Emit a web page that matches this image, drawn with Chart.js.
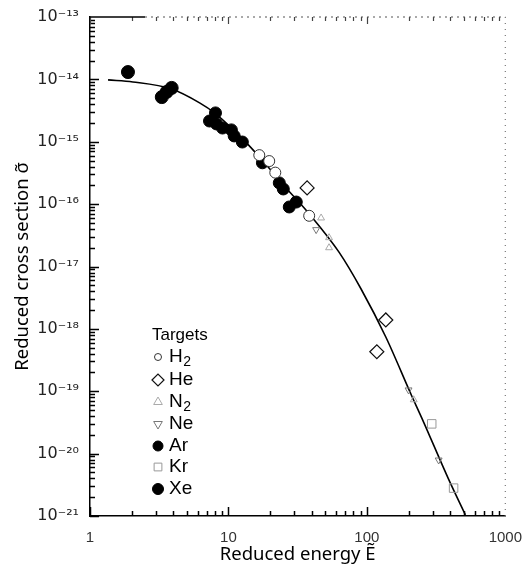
<!DOCTYPE html>
<html>
<head>
<meta charset="utf-8">
<script src="https://cdn.jsdelivr.net/npm/chart.js@4/dist/chart.umd.min.js"></script>
<style>
  html, body { margin: 0; padding: 0; background: #fff; }
  #wrap { width: 527px; height: 575px; }
</style>
</head>
<body>
<div id="wrap"><canvas id="c" width="527" height="575"></canvas></div>
<script>
// ---- data ----
const curveE     = [1.35, 2.04, 3.89, 6.19, 7.93, 13.5, 18.2, 26.1, 38.3, 62.9, 90.6, 137, 211, 249, 389, 515];
const curveSigma = [9.8e-15, 9.1e-15, 7.0e-15, 4.2e-15, 2.9e-15, 9.6e-16, 4.6e-16, 1.82e-16, 7.0e-17, 1.7e-17, 4.4e-18, 7.4e-19, 8.4e-20, 3.75e-20, 3.9e-21, 1.04e-21];

const h2E     = [16.7, 19.7, 21.8, 38.3];
const h2Sigma = [6.1e-16, 4.9e-16, 3.2e-16, 6.5e-17];

const heE     = [37.0, 137, 118];
const heSigma = [1.82e-16, 1.39e-18, 4.3e-19];

const n2E     = [46.7, 53.3, 53.3, 218];
const n2Sigma = [6.0e-17, 2.9e-17, 2.0e-17, 7.3e-20];

const neE     = [43, 200, 330];
const neSigma = [3.9e-17, 1.05e-19, 7.9e-21];

const arE     = [8.06, 7.30, 8.20, 9.06, 10.5, 11.0, 12.6, 17.6, 23.3, 24.9, 27.5, 30.9];
const arSigma = [2.9e-15, 2.15e-15, 1.93e-15, 1.66e-15, 1.55e-15, 1.24e-15, 9.9e-16, 4.6e-16, 2.19e-16, 1.75e-16, 9.0e-17, 1.08e-16];

const krE     = [294, 423];
const krSigma = [3.0e-20, 2.8e-21];

const xeE     = [1.88, 3.30, 3.58, 3.89];
const xeSigma = [1.31e-14, 5.2e-15, 6.3e-15, 7.3e-15];

const xTickValues    = [1, 10, 100, 1000];
const yTickExponents = [-13, -14, -15, -16, -17, -18, -19, -20, -21];
const legendTitle = 'Targets';

// ---- helpers ----
const SUP = {'-':'\u207B','0':'\u2070','1':'\u00B9','2':'\u00B2','3':'\u00B3','4':'\u2074','5':'\u2075','6':'\u2076','7':'\u2077','8':'\u2078','9':'\u2079'};
const sup = s => String(s).split('').map(ch => SUP[ch] || ch).join('');
const pts = (xs, ys) => xs.map((x, i) => ({x: x, y: ys[i]}));
const yTickValues = yTickExponents.map(e => Math.pow(10, e));

function drawTicks(chart) {
  const ctx = chart.ctx, xs = chart.scales.x, ys = chart.scales.y;
  const a = chart.chartArea;
  ctx.save();
  ctx.setLineDash([]);
  ctx.globalAlpha = 1;
  ctx.lineWidth = 1.5;
  ctx.strokeStyle = '#000000';
  ctx.beginPath();
  for (let d = -21; d < -13; d++) {
    for (let m = 1; m <= 9; m++) {
      const py = Math.round(ys.getPixelForValue(m * Math.pow(10, d))) + 0.5;
      const len = m === 1 ? 9 : 5;
      ctx.moveTo(a.left, py); ctx.lineTo(a.left + len, py);
    }
  }
  for (let d = 0; d < 3; d++) {
    for (let m = 1; m <= 9; m++) {
      const px = Math.round(xs.getPixelForValue(m * Math.pow(10, d))) + 0.5;
      const len = m === 1 ? 9 : 5;
      ctx.moveTo(px, a.bottom); ctx.lineTo(px, a.bottom - len);
    }
  }
  ctx.stroke();
  ctx.strokeStyle = '#444444';
  ctx.lineWidth = 1.2;
  ctx.beginPath();
  for (let d = 0; d < 3; d++) {
    for (let m = 1; m <= 9; m++) {
      const px = Math.round(xs.getPixelForValue(m * Math.pow(10, d))) + 0.5;
      const len = m === 1 ? 7 : 4;
      ctx.moveTo(px, a.top); ctx.lineTo(px, a.top + len);
    }
  }
  ctx.stroke();
  ctx.restore();
}

// inward tick marks, frame and legend
const framePlugin = {
  id: 'frame',
  afterDatasetsDraw(chart) {
    drawTicks(chart);
  },
  afterDraw(chart) {
    const ctx = chart.ctx;
    const a = chart.chartArea;
    ctx.save();
    // top border: solid then dotted
    ctx.strokeStyle = '#000';
    ctx.lineWidth = 1.4;
    ctx.beginPath(); ctx.moveTo(a.left, a.top); ctx.lineTo(a.left + 55, a.top); ctx.stroke();
    ctx.strokeStyle = '#555';
    ctx.lineWidth = 1.2;
    ctx.setLineDash([2, 4]);
    ctx.beginPath(); ctx.moveTo(a.left + 55, a.top); ctx.lineTo(a.right, a.top); ctx.stroke();
    // right border dotted
    ctx.setLineDash([1, 5]);
    ctx.strokeStyle = '#777';
    ctx.beginPath(); ctx.moveTo(a.right, a.top); ctx.lineTo(a.right, a.bottom); ctx.stroke();
    ctx.setLineDash([]);

    // legend
    const lx = a.left + 68, tx = a.left + 79;
    ctx.fillStyle = '#000';
    ctx.textBaseline = 'middle';
    ctx.textAlign = 'left';
    ctx.font = '17px "Liberation Sans", Arial, sans-serif';
    ctx.fillText(legendTitle, a.left + 62, 335);
    const rows = [357, 380, 402, 424, 446, 467, 489];
    const items = chart.data.datasets.filter(ds => ds.legendRow !== undefined);
    items.forEach(ds => {
      const y = rows[ds.legendRow];
      ctx.save();
      ctx.fillStyle = ds.backgroundColor;
      ctx.strokeStyle = ds.borderColor;
      ctx.lineWidth = ds.borderWidth;
      Chart.helpers.drawPoint(ctx, {
        pointStyle: ds.pointStyle, radius: ds.legendRadius,
        rotation: ds.rotation || 0, borderWidth: ds.borderWidth
      }, lx, y);
      ctx.restore();
      ctx.fillStyle = '#000';
      ctx.font = '19px "Liberation Sans", Arial, sans-serif';
      const m = /^([A-Za-z]+)(\d*)$/.exec(ds.label);
      ctx.fillText(m[1], tx, y);
      if (m[2]) {
        const w = ctx.measureText(m[1]).width;
        ctx.font = '14px "Liberation Sans", Arial, sans-serif';
        ctx.fillText(m[2], tx + w + 0.5, y + 5);
      }
    });
    ctx.restore();
  }
};

const FONT = '"Liberation Sans", Arial, sans-serif';

new Chart(document.getElementById('c'), {
  type: 'scatter',
  data: {
    datasets: [
      { label: 'fit', data: pts(curveE, curveSigma), showLine: true, borderColor: '#000', borderWidth: 1.6,
        pointRadius: 0, cubicInterpolationMode: 'monotone', order: 10 },
      { label: 'H2', legendRow: 0, data: pts(h2E, h2Sigma), pointStyle: 'circle', pointRadius: 5.5, legendRadius: 3.5,
        backgroundColor: '#fff', borderColor: '#333', borderWidth: 1 },
      { label: 'He', legendRow: 1, data: pts(heE, heSigma), pointStyle: 'rectRot', pointRadius: 7, legendRadius: 6,
        backgroundColor: '#fff', borderColor: '#111', borderWidth: 1.2 },
      { label: 'N2', legendRow: 2, data: pts(n2E, n2Sigma), pointStyle: 'triangle', pointRadius: 4, legendRadius: 5,
        backgroundColor: 'rgba(255,255,255,0)', borderColor: '#aaa', borderWidth: 1 },
      { label: 'Ne', legendRow: 3, data: pts(neE, neSigma), pointStyle: 'triangle', rotation: 180, pointRotation: 180,
        pointRadius: 4, legendRadius: 5, backgroundColor: 'rgba(255,255,255,0)', borderColor: '#777', borderWidth: 1 },
      { label: 'Ar', legendRow: 4, data: pts(arE, arSigma), pointStyle: 'circle', pointRadius: 6, legendRadius: 5,
        backgroundColor: '#000', borderColor: '#000', borderWidth: 1 },
      { label: 'Kr', legendRow: 5, data: pts(krE, krSigma), pointStyle: 'rect', pointRadius: 6, legendRadius: 5.5,
        backgroundColor: 'rgba(255,255,255,0)', borderColor: '#999', borderWidth: 1 },
      { label: 'Xe', legendRow: 6, data: pts(xeE, xeSigma), pointStyle: 'circle', pointRadius: 6.5, legendRadius: 5.5,
        backgroundColor: '#000', borderColor: '#000', borderWidth: 1 }
    ]
  },
  options: {
    responsive: false,
    animation: false,
    events: [],
    layout: { padding: { top: 17, right: 20, left: 0, bottom: 0 } },
    plugins: { legend: { display: false }, tooltip: { enabled: false } },
    scales: {
      x: {
        type: 'logarithmic', min: 1, max: 1000,
        afterFit: s => { s.height = 59; },
        afterBuildTicks: s => { s.ticks = xTickValues.map(v => ({ value: v })); },
        grid: { display: false },
        border: { display: true, color: '#000', width: 1.5 },
        ticks: { color: '#333', padding: 5, maxRotation: 0, autoSkip: false,
                 font: { family: FONT, size: 15 }, callback: v => String(v) },
        title: { display: true, text: 'Reduced energy E\u0303', color: '#000',
                 font: { family: '"Noto Sans", sans-serif', size: 18.5 }, padding: { top: 0, bottom: 9 } }
      },
      y: {
        type: 'logarithmic', min: 1e-21, max: 1e-13,
        afterFit: s => { s.width = 90; },
        afterBuildTicks: s => { s.ticks = yTickValues.map(v => ({ value: v })); },
        grid: { display: false },
        border: { display: true, color: '#000', width: 1.5 },
        ticks: { color: '#222', padding: 3, autoSkip: false,
                 font: { family: '"DejaVu Sans", sans-serif', size: 16 },
                 callback: v => '10' + sup(Math.round(Math.log10(v))) },
        title: { display: true, text: 'Reduced cross section \u03C3\u0303', color: '#000',
                 font: { family: '"Noto Sans", sans-serif', size: 18.5 }, padding: { top: 12, bottom: 0 } }
      }
    }
  },
  plugins: [framePlugin]
});
</script>
</body>
</html>
